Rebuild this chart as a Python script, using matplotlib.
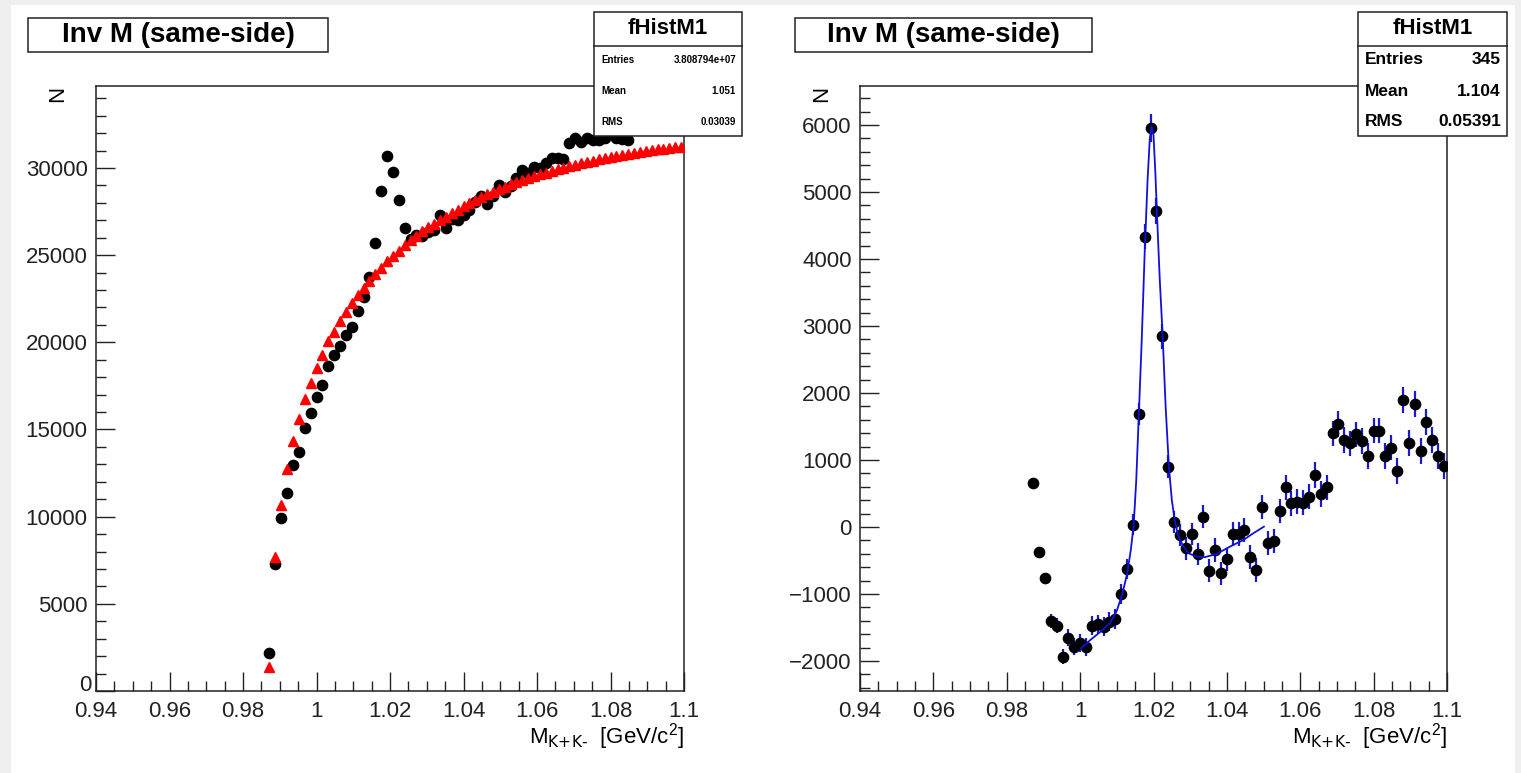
import numpy as np
import matplotlib
matplotlib.use('Agg')
import matplotlib.pyplot as plt
from matplotlib.patches import Rectangle
from matplotlib.ticker import MultipleLocator, FuncFormatter

plt.rcParams['font.family'] = ['Liberation Sans', 'DejaVu Sans']
plt.rcParams['mathtext.default'] = 'regular'

# histogram binning: 100 bins on 0.94 - 1.1, first filled bin is 29
bin_lo = 0.94
bin_w = 0.0016
first_bin = 29

# left pad: same-side pairs (black) and mixed/background (red)
same_side = [2160, 7290, 9950, 11330, 12955, 13715, 15110, 15950, 16890, 17565,
             18660, 19265, 19815, 20430, 20905, 21815, 22595, 23719, 25670, 28690,
             30700, 29780, 28145, 26530, 25950, 26150, 26100, 26350, 26450, 27280,
             26530, 27050, 27000, 27300, 27600, 28070, 28390, 27930, 28400, 29025,
             28640, 28950, 29400, 29885, 29700, 30076, 30000, 30270, 30555, 30555,
             30500, 31415, 31702, 31510, 31702, 31606, 31606, 31700, 32000, 31700,
             31650, 31606]
background = [1394, 7670, 10669, 12716, 14358, 15602, 16767, 17684, 18510, 19293,
              20076, 20612, 21204, 21758, 22236, 22700, 23120, 23500, 23900, 24270,
              24640, 24950, 25256, 25560, 25850, 26118, 26387, 26588, 26795, 26996,
              27202, 27408, 27600, 27790, 27970, 28150, 28320, 28480, 28640, 28790,
              28930, 29060, 29180, 29300, 29410, 29520, 29630, 29730, 29830, 29920,
              30010, 30100, 30190, 30270, 30350, 30420, 30490, 30560, 30630, 30690,
              30750, 30810, 30870, 30920, 30970, 31020, 31070, 31110, 31150, 31190,
              31225]

# right pad: subtracted spectrum with errors and fit
subtracted = [661, -369, -766, -1403, -1473, -1936, -1652, -1786, -1736, -1796,
              -1473, -1448, -1488, -1413, -1373, -1005, -627, 34, 1682, 4333,
              5960, 4716, 2846, 900, 79, -119, -318, -104, -403, 154,
              -652, -343, -691, -482, -104, -104, -45, -443, -642, 294,
              -244, -209, 239, 592, 353, 378, 363, 453, 776, 493,
              592, 1398, 1537, 1299, 1249, 1383, 1284, 1060, 1438, 1438,
              1060, 1184, 836, 1900, 1259, 1840, 1139, 1562, 1299, 1060,
              915]
sub_err = [30, 60, 80, 100, 110, 110, 130, 130, 135, 135,
           140, 140, 145, 145, 150, 150, 155, 160, 165, 190,
           210, 200, 185, 170, 165, 165, 170, 170, 170, 175,
           175, 175, 175, 175, 180, 180, 180, 180, 180, 180,
           180, 185, 185, 185, 185, 185, 185, 190, 190, 190,
           190, 190, 190, 190, 190, 190, 190, 190, 190, 190,
           190, 190, 190, 195, 195, 195, 195, 195, 195, 195,
           195]

fit_m = [1.0003, 1.0027, 1.0054, 1.0082, 1.0100, 1.0115, 1.0128, 1.0138, 1.0146, 1.0153,
         1.0160, 1.0168, 1.0176, 1.0184, 1.0190, 1.0195, 1.0200, 1.0205, 1.0210, 1.0217,
         1.0225, 1.0233, 1.0242, 1.0250, 1.0258, 1.0266, 1.0280, 1.0295, 1.0315, 1.0340,
         1.0372, 1.0408, 1.0445, 1.0472, 1.0501]
fit_n = [-1810, -1690, -1570, -1430, -1250, -1000, -700, -350, 30, 700,
         1680, 2800, 4100, 5200, 5800, 5980, 5850, 5300, 4600, 3700,
         2850, 1800, 900, 400, 100, -100, -280, -390, -440, -450,
         -403, -294, -194, -94, 5]

stats_left = [('Entries', '3.808794e+07'), ('Mean', '1.051'), ('RMS', '0.03039')]
stats_right = [('Entries', '345'), ('Mean', '1.104'), ('RMS', '0.05391')]
title = 'Inv M (same-side)'


def centers(n):
	return bin_lo + bin_w*(np.arange(first_bin, first_bin + n) + 0.5)


W, H = 1521, 773
fig = plt.figure(figsize=(W/100, H/100), dpi=100, facecolor='white')

def fx(x):
	return x/W

def fy(y):
	return 1 - y/H

# grey canvas border
grey = '#efefef'
for (x0, y0, x1, y1) in [(0, 0, 11, H), (0, 0, W, 5), (W - 6, 0, W, H)]:
	fig.add_artist(Rectangle((fx(x0), fy(y1)), fx(x1 - x0), (y1 - y0)/H,
	                         transform=fig.transFigure, facecolor=grey, edgecolor='none', zorder=0))

lw_frame = 1.1
fs_tick = 16


def make_yfmt(skip_zero):
	def f(v, p):
		if skip_zero and abs(v) < 1e-6:
			return ''	# corner zero is drawn by hand, lifted above the x labels
		return f'{v:g}'.replace('-', '\u2212')
	return FuncFormatter(f)


def style_axis(ax, ymaj, ymin, skip_zero=False):
	ax.set_xlim(0.94, 1.1)
	ax.xaxis.set_major_locator(MultipleLocator(0.02))
	ax.xaxis.set_minor_locator(MultipleLocator(0.005))
	ax.yaxis.set_major_locator(MultipleLocator(ymaj))
	ax.yaxis.set_minor_locator(MultipleLocator(ymin))
	ax.xaxis.set_major_formatter(FuncFormatter(lambda v, p: f'{v:g}'))
	ax.yaxis.set_major_formatter(make_yfmt(skip_zero))
	ax.tick_params(which='both', direction='in', top=False, right=False,
	               labelsize=fs_tick, width=1.0, colors='#222222')
	ax.tick_params(which='major', length=14)
	ax.tick_params(which='minor', length=7)
	ax.tick_params(axis='x', pad=7)
	ax.tick_params(axis='y', pad=6)
	for s in ax.spines.values():
		s.set_linewidth(lw_frame)
		s.set_color('#222222')
	ax.text(1.0, -0.05, r'M$_{\text{K+K-}}$  [GeV/c$^{2}$]', transform=ax.transAxes,
	        ha='right', va='top', fontsize=fs_tick)
	ax.text(-0.066, 1.0, 'N', transform=ax.transAxes, rotation=90,
	        ha='center', va='top', fontsize=fs_tick)


ax1 = fig.add_axes([fx(96), fy(691), fx(684 - 96), (691 - 86)/H])
ax2 = fig.add_axes([fx(860), fy(691), fx(1447 - 860), (691 - 86)/H])

# left pad
m_same = centers(len(same_side))
m_bg = centers(len(background))
ax1.errorbar(m_same, same_side, xerr=bin_w/2, fmt='o', color='black', ms=7.4,
             elinewidth=1, capsize=0, zorder=3)
ax1.plot(m_bg, background, '^', color='red', ms=7.8, mec='red', zorder=4)
ax1.set_ylim(0, 34700)
style_axis(ax1, 5000, 1000, skip_zero=True)
ax1.annotate('0', xy=(0, 0), xycoords='axes fraction', xytext=(-3, 4),
             textcoords='offset points', ha='right', va='center',
             fontsize=fs_tick, color='#222222')

# right pad
m_sub = centers(len(subtracted))
ax2.errorbar(m_sub, subtracted, yerr=sub_err, fmt='none', ecolor='#1a1acc',
             elinewidth=1.6, capsize=0, zorder=2)
ax2.errorbar(m_sub, subtracted, xerr=bin_w/2, fmt='o', color='black', ms=7.4,
             elinewidth=1, capsize=0, zorder=3)
ax2.plot(fit_m, fit_n, color='#1010dd', lw=1.3, zorder=4)
ax2.set_ylim(-2448, 6582)
style_axis(ax2, 1000, 200)


def box(x0, y0, x1, y1, z=10):
	fig.add_artist(Rectangle((fx(x0), fy(y1)), fx(x1 - x0), (y1 - y0)/H,
	                         transform=fig.transFigure, facecolor='white',
	                         edgecolor='#222222', lw=1.1, zorder=z))


def stats(x0, x1, rows, fs):
	box(x0, 12, x1, 136)
	fig.add_artist(plt.Line2D([fx(x0), fx(x1)], [fy(46), fy(46)], transform=fig.transFigure,
	                          color='#222222', lw=1.1, zorder=11))
	fig.text(fx((x0 + x1)/2), fy(29), 'fHistM1', ha='center', va='center',
	         fontsize=16, fontweight='bold', zorder=12)
	for i, (k, v) in enumerate(rows):
		yy = 60 + 31*i
		fig.text(fx(x0 + 7), fy(yy), k, ha='left', va='center', fontsize=fs,
		         fontweight='bold', zorder=12)
		fig.text(fx(x1 - 6), fy(yy), v, ha='right', va='center', fontsize=fs,
		         fontweight='bold', zorder=12)


for (x0, x1) in [(28, 328), (795, 1092)]:
	box(x0, 18, x1, 52)
	fig.text(fx((x0 + x1)/2), fy(35.5), title, ha='center', va='center',
	         fontsize=20, fontweight='bold', zorder=12)

stats(594, 742, stats_left, 7)
stats(1358, 1507, stats_right, 12.5)

fig.savefig('out.png', dpi=100, facecolor=fig.get_facecolor())
